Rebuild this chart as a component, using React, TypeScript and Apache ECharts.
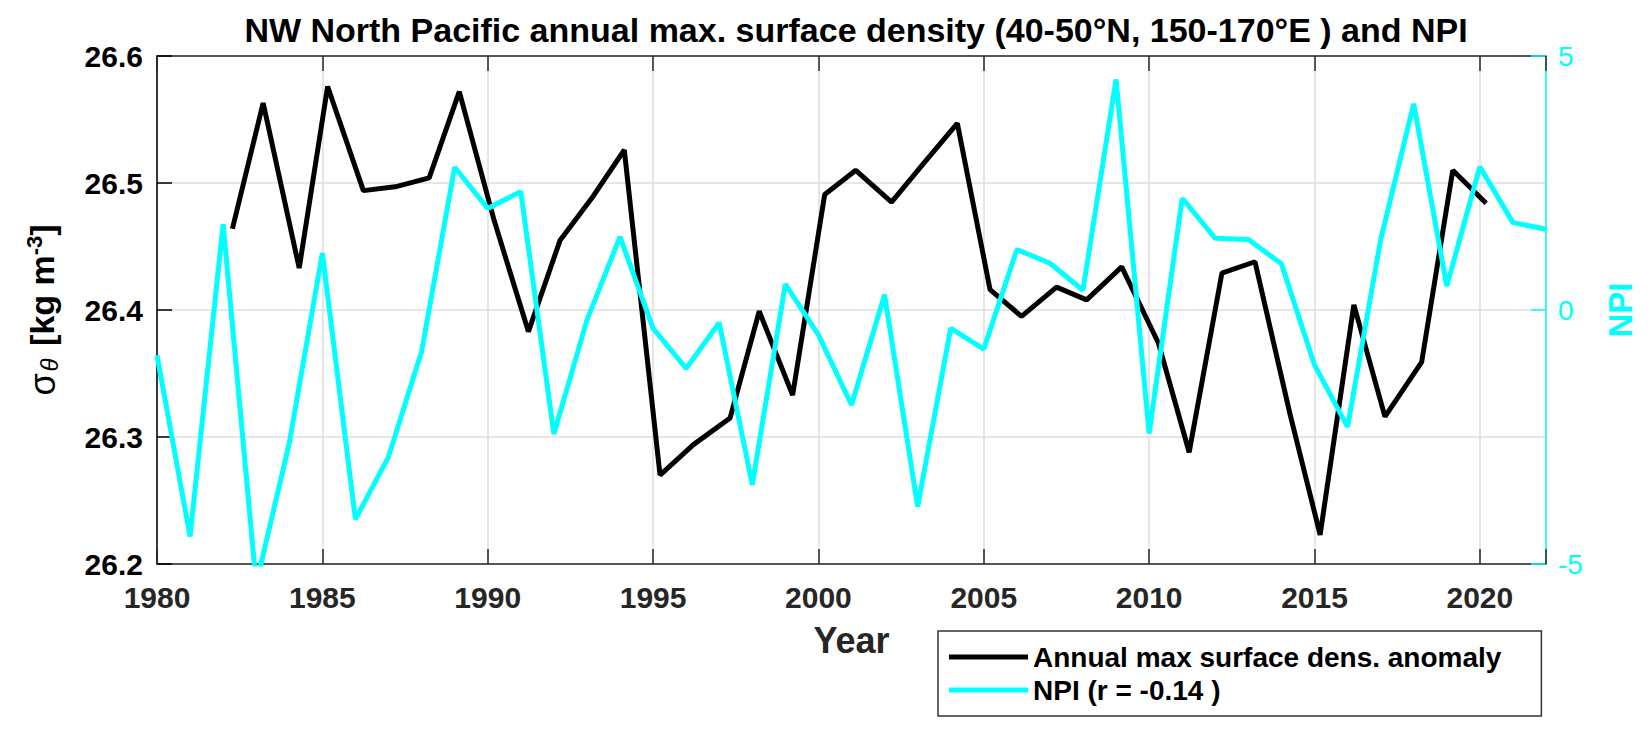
import React, { useEffect, useRef } from "react";
import * as echarts from "echarts";

// Annual max surface density (black) – decimal year of max, sigma-theta value
const densYears = [
  1982.28, 1983.21, 1984.3, 1985.16, 1986.24, 1987.2, 1988.23, 1989.14, 1990.2, 1991.23,
  1992.19, 1993.2, 1994.13, 1995.21, 1996.22, 1997.33, 1998.21, 1999.22, 2000.19, 2001.13,
  2002.21, 2003.2, 2004.2, 2005.19, 2006.14, 2007.2, 2008.11, 2009.17, 2010.28, 2011.21,
  2012.2, 2013.2, 2014.26, 2015.17, 2016.19, 2017.13, 2018.24, 2019.18, 2020.19,
];
const densValues = [
  26.464, 26.563, 26.433, 26.576, 26.494, 26.497, 26.504, 26.572, 26.47, 26.383,
  26.455, 26.49, 26.526, 26.27, 26.294, 26.315, 26.399, 26.333, 26.491, 26.51,
  26.485, 26.516, 26.547, 26.416, 26.395, 26.418, 26.408, 26.434, 26.374, 26.288,
  26.429, 26.438, 26.318, 26.223, 26.404, 26.316, 26.359, 26.51, 26.484,
];

// NPI (cyan)
const npiYears = [
  1980, 1981, 1982, 1983, 1984, 1985, 1986, 1987, 1988, 1989, 1990, 1991, 1992, 1993, 1994,
  1995, 1996, 1997, 1998, 1999, 2000, 2001, 2002, 2003, 2004, 2005, 2006, 2007, 2008, 2009,
  2010, 2011, 2012, 2013, 2014, 2015, 2016, 2017, 2018, 2019, 2020, 2021, 2022,
];
const npiValues = [
  -0.89, -4.46, 1.69, -5.4, -2.62, 1.12, -4.12, -2.89, -0.82, 2.81, 2.0, 2.33, -2.44, -0.2, 1.44,
  -0.36, -1.15, -0.25, -3.44, 0.51, -0.49, -1.87, 0.3, -3.87, -0.36, -0.77, 1.19, 0.92, 0.39, 4.54,
  -2.43, 2.2, 1.41, 1.39, 0.91, -1.08, -2.3, 1.38, 4.06, 0.47, 2.82, 1.72, 1.59,
];

const titleText = "NW North Pacific annual max. surface density (40-50°N, 150-170°E ) and NPI";
const seriesNames = ["Annual max surface dens. anomaly", "NPI (r = -0.14 )"];

const FONT = "'Liberation Sans', Arial, Helvetica, sans-serif";
const CYAN = "#00ffff";
const AXIS_GRAY = "#262626";
const GRID_GRAY = "#dedede";

export default function App() {
  const ref = useRef<HTMLDivElement>(null);

  useEffect(() => {
    if (!ref.current) return;
    const chart = echarts.init(ref.current, undefined, { renderer: "svg" });

    const densData = densYears.map((x, i) => [x, densValues[i]]);
    const npiData = npiYears.map((x, i) => [x, npiValues[i]]);

    chart.setOption({
      animation: false,
      backgroundColor: "#ffffff",
      textStyle: { fontFamily: FONT },
      title: {
        text: titleText,
        left: 851,
        top: 8,
        textAlign: "center",
        textStyle: { fontFamily: FONT, fontSize: 34, fontWeight: "bold", color: "#000" },
      },
      grid: { left: 157, right: 106, top: 56, bottom: 172 },
      legend: {
        orient: "vertical",
        left: 938,
        top: 631,
        data: seriesNames,
        itemWidth: 79,
        itemHeight: 5,
        itemGap: 5,
        icon: "rect",
        padding: [12, 40, 12, 11],
        borderColor: "#333",
        borderWidth: 1.5,
        borderRadius: 0,
        backgroundColor: "#fff",
        textStyle: { fontFamily: FONT, fontSize: 28, fontWeight: "bold", color: "#000" },
      },
      xAxis: [
        {
          type: "value",
          min: 1980,
          max: 2022,
          interval: 5,
          position: "bottom",
          name: "Year",
          nameLocation: "middle",
          nameGap: 58,
          nameTextStyle: { fontFamily: FONT, fontSize: 36, fontWeight: "bold", color: AXIS_GRAY },
          axisLine: { show: true, onZero: false, lineStyle: { color: AXIS_GRAY, width: 1.5 } },
          axisTick: { show: true, inside: true, length: 15, lineStyle: { color: AXIS_GRAY, width: 1.5 } },
          axisLabel: {
            fontFamily: FONT,
            fontSize: 30,
            fontWeight: "bold",
            color: AXIS_GRAY,
            margin: 18,
            formatter: (v: number) => (v % 5 === 0 ? String(v) : ""),
          },
          splitLine: { show: true, lineStyle: { color: GRID_GRAY, width: 1.5 } },
        },
        {
          type: "value",
          min: 1980,
          max: 2022,
          interval: 5,
          position: "top",
          axisLine: { show: true, onZero: false, lineStyle: { color: AXIS_GRAY, width: 1.5 } },
          axisTick: { show: true, inside: true, length: 15, lineStyle: { color: AXIS_GRAY, width: 1.5 } },
          axisLabel: { show: false },
          splitLine: { show: false },
        },
      ],
      yAxis: [
        {
          type: "value",
          min: 26.2,
          max: 26.6,
          interval: 0.1,
          position: "left",
          name: "{s|σ}{sub|θ}{b| [kg m}{sup|-3}{b|]}",
          nameLocation: "middle",
          nameRotate: 90,
          nameGap: 96,
          nameTextStyle: {
            fontFamily: FONT,
            fontSize: 34,
            color: "#000",
            rich: {
              s: { fontFamily: FONT, fontSize: 36, color: "#000", verticalAlign: "middle" },
              sub: { fontFamily: FONT, fontSize: 24, fontStyle: "italic", color: "#000", verticalAlign: "bottom", padding: [12, 3, 0, 2] },
              b: { fontFamily: FONT, fontSize: 34, fontWeight: "bold", color: "#000", verticalAlign: "middle" },
              sup: { fontFamily: FONT, fontSize: 22, fontWeight: "bold", color: "#000", verticalAlign: "top", padding: [0, 0, 16, 0] },
            },
          },
          axisLine: { show: true, onZero: false, lineStyle: { color: "#000", width: 1.5 } },
          axisTick: { show: true, inside: true, length: 15, lineStyle: { color: "#000", width: 1.5 } },
          axisLabel: {
            fontFamily: FONT,
            fontSize: 30,
            fontWeight: "bold",
            color: "#000",
            margin: 14,
            formatter: (v: number) => v.toFixed(1),
          },
          splitLine: { show: true, lineStyle: { color: GRID_GRAY, width: 1.5 } },
        },
        {
          type: "value",
          min: -5,
          max: 5,
          interval: 5,
          position: "right",
          name: "NPI",
          nameLocation: "middle",
          nameRotate: 90,
          nameGap: 58,
          nameTextStyle: { fontFamily: FONT, fontSize: 33, fontWeight: "bold", color: CYAN },
          axisLine: { show: true, onZero: false, lineStyle: { color: CYAN, width: 1.5 } },
          axisTick: { show: true, inside: true, length: 15, lineStyle: { color: CYAN, width: 1.5 } },
          axisLabel: { fontFamily: FONT, fontSize: 28, color: CYAN, margin: 12 },
          splitLine: { show: false },
        },
      ],
      series: [
        {
          name: seriesNames[0],
          type: "line",
          xAxisIndex: 0,
          yAxisIndex: 0,
          data: densData,
          showSymbol: false,
          symbol: "none",
          clip: true,
          z: 3,
          lineStyle: { color: "#000", width: 5 },
          itemStyle: { color: "#000" },
        },
        {
          name: seriesNames[1],
          type: "line",
          xAxisIndex: 0,
          yAxisIndex: 1,
          data: npiData,
          showSymbol: false,
          symbol: "none",
          clip: true,
          z: 4,
          lineStyle: { color: CYAN, width: 5 },
          itemStyle: { color: CYAN },
        },
      ],
    });

    return () => chart.dispose();
  }, []);

  return (
    <div
      ref={ref}
      style={{ position: "fixed", left: 0, top: 0, width: 1652, height: 736, background: "#fff" }}
    />
  );
}
